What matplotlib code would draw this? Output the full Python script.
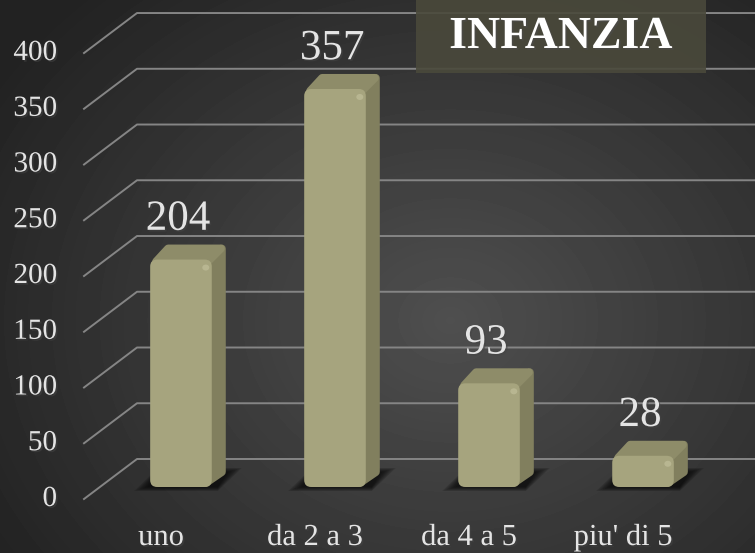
"""
INFANZIA - bar chart with pseudo-3D bars on a dark radial background.
"""
import numpy as np
import matplotlib.pyplot as plt
import matplotlib.patheffects as pe
from matplotlib.patches import Polygon, FancyBboxPatch, Rectangle, Ellipse
from matplotlib.transforms import IdentityTransform, offset_copy

# ── data ─────────────────────────────────────────────────────────────────────
categories = ["uno", "da 2 a 3", "da 4 a 5", "piu' di 5"]
values = [204, 357, 93, 28]
yticks = [0, 50, 100, 150, 200, 250, 300, 350, 400]
title = "INFANZIA"

# ── style ────────────────────────────────────────────────────────────────────
W, H = 755, 553
FONT = "Liberation Serif"
TEXT_COL = "#e4e4e4"
FRONT = "#a6a47e"
SIDE = "#817f5e"
TOP = "#8e8c69"
GRID = "#858585"
BOX = "#4a493b"

BAR_W = 0.40           # front face width, category units
DX, DY = 14, 15        # bar depth in pixels
R = 4                  # corner rounding of side/top faces, pixels
GX0, GX1 = 84, 137     # grid: front / back x in pixels
GDY0, GDY1 = -12, 28   # grid: front / back y offset from bar plane, pixels

fig = plt.figure(figsize=(W / 100, H / 100), dpi=100)
ax = fig.add_axes([0, 0, 1, 1])
ax.set_xlim(-1.175, 3.727)
ax.set_ylim(-59.2, 436.8)
ax.set_autoscale_on(False)
ax.axis("off")
px = IdentityTransform()
shadow = [pe.SimplePatchShadow(offset=(1.2, -1.2), alpha=0.55), pe.Normal()]
round_lw = 2 * R * 72 / 100   # stroke width (pt) that rounds an inset shape


def rounded_poly(pts, color, z):
    # inset polygon stroked with a thick round-joined edge -> rounded corners
    ax.add_patch(Polygon(pts, closed=True, transform=px, facecolor=color,
                         edgecolor=color, lw=round_lw, joinstyle="round",
                         zorder=z))


# ── background: radial gradient ─────────────────────────────────────────────
yy, xx = np.mgrid[0:H, 0:W]
d = np.sqrt(((xx - 450) / 520) ** 2 + ((yy - 320) / 430) ** 2)
g = np.clip(0.31 - 0.17 * d, 0.135, 0.31)
ax.imshow(g, cmap="gray", vmin=0, vmax=1, extent=(0, 1, 0, 1),
          transform=ax.transAxes, aspect="auto", zorder=0,
          interpolation="bilinear")

to_px = ax.transData.transform

# ── grid lines in perspective + tick labels ─────────────────────────────────
for v in yticks:
    _, yb = to_px((0, v))
    ax.plot([GX0, GX1, W], [yb + GDY0, yb + GDY1, yb + GDY1],
            color=GRID, lw=1.4, transform=px, zorder=1)
    ax.text(57, yb + GDY0, str(v), transform=px, ha="right", va="center",
            fontsize=21, color=TEXT_COL, family=FONT, path_effects=shadow)

# ── bars ─────────────────────────────────────────────────────────────────────
for i, v in enumerate(values):
    x0, y0 = to_px((i - BAR_W / 2, 0))
    x1, y1 = to_px((i + BAR_W / 2, v))

    # soft floor shadow
    for k in range(7):
        s = k * 2.2
        ax.add_patch(Polygon([(x0 - 16 + s, y0 - 4 + s * 0.3),
                              (x1 + 6, y0 - 4 + s * 0.3),
                              (x1 + DX + 16 - s, y0 + DY + 4 - s * 0.3),
                              (x0 + DX - 6, y0 + DY + 4 - s * 0.3)],
                             closed=True, transform=px, color="black",
                             alpha=0.13, lw=0, zorder=2))

    # side face, then top face
    rounded_poly([(x1 - 6, y0 + R), (x1 - 6, y1 - R),
                  (x1 + DX - R, y1 + DY - R), (x1 + DX - R, y0 + DY)],
                 SIDE, 3)
    rounded_poly([(x0 + R + 2, y1 - 2), (x1 - R, y1 - 2),
                  (x1 + DX - R - 1, y1 + DY - R), (x0 + DX + R, y1 + DY - R)],
                 TOP, 3.1)

    # front face
    ax.add_patch(FancyBboxPatch((x0, y0), x1 - x0, y1 - y0,
                                boxstyle="round,pad=0,rounding_size=7",
                                transform=px, color=FRONT, lw=0, zorder=4))
    ax.add_patch(Ellipse((x1 - 6, y1 - 8), 7, 6, transform=px,
                         color="#d4d2b0", alpha=0.4, lw=0, zorder=5))

    # value label
    ax.text(i, v, str(v), transform=offset_copy(ax.transData, fig, x=-3,
                                                  y=40, units="dots"),
            ha="center", va="center", fontsize=31, color=TEXT_COL,
            family=FONT, path_effects=shadow, zorder=6)
    # category label
    ax.text(i, 0, categories[i],
            transform=offset_copy(ax.transData, fig, x=-20, y=-58,
                                  units="dots"),
            ha="center", va="baseline", fontsize=22, color=TEXT_COL,
            family=FONT, path_effects=shadow, zorder=6)

# ── title box ────────────────────────────────────────────────────────────────
ax.add_patch(Rectangle((416 / W, 1 - 73 / H), 290 / W, 73 / H,
                       transform=ax.transAxes, color=BOX, alpha=0.9, lw=0,
                       zorder=7))
ax.text(561 / W, 1 - 37 / H, title, transform=ax.transAxes, ha="center",
        va="center", fontsize=33, fontweight="bold", color="white",
        family=FONT, path_effects=shadow, zorder=8)

fig.savefig("out.png", dpi=100)
